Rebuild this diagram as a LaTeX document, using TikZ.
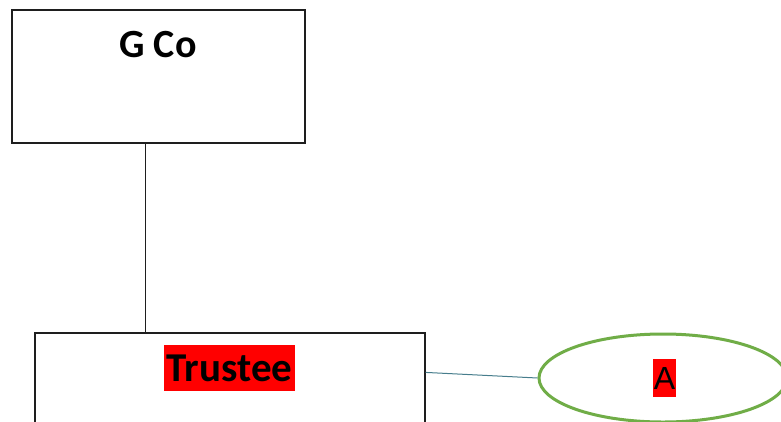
\documentclass[tikz,border=0pt]{standalone}
\usepackage{fontspec}
\setmainfont{Carlito}
\newfontfamily\arialfont{Liberation Sans}
\usetikzlibrary{shapes.geometric}
\definecolor{boxline}{RGB}{30,30,30}
\definecolor{ellgreen}{RGB}{112,173,71}
\definecolor{linkteal}{RGB}{70,125,140}
\tikzset{
  orgbox/.style={draw=boxline, line width=1.2pt, rectangle, inner sep=0pt, fill=white},
  hilite/.style={fill=red, inner sep=0pt, text=black},
  link/.style={line width=1pt}
}
\begin{document}
\begin{tikzpicture}[x=1pt, y=-1pt]
\useasboundingbox (0,0) rectangle (781,421);
\clip (0,0) rectangle (781,421);
\fill[white] (0,0) rectangle (781,421);
% boxes
\node[orgbox, minimum width=293pt, minimum height=133pt] (gco) at (158.5,76.5) {};
\node[orgbox, minimum width=390pt, minimum height=140pt] (trustee) at (230,403) {};
\node[draw=ellgreen, line width=3pt, ellipse, minimum width=248pt, minimum height=88pt, inner sep=0pt] (ell) at (663,378) {};
% texts
\node[inner sep=0pt, font=\fontsize{40}{46}\selectfont\bfseries] (gcotext) at (158,45) {G Co};
\node[hilite, minimum width=131pt, minimum height=46pt, font=\fontsize{41}{46}\selectfont\bfseries] (trtext) at (229.5,368) {Trustee};
\node[hilite, minimum width=23pt, minimum height=38pt, font=\arialfont\fontsize{32}{36}\selectfont] (atext) at (664.5,378) {A};
% connectors
\draw[link, boxline] ([xshift=-13.5pt]gco.south) -- ([xshift=-13.5pt]gco.south |- trustee.north);
\draw[link, linkteal] ([yshift=-40pt]trustee.north east) -- (ell.west);
\end{tikzpicture}
\end{document}
